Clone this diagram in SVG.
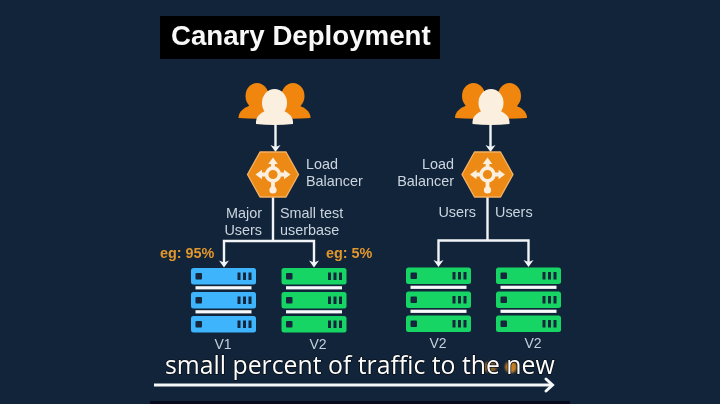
<svg xmlns="http://www.w3.org/2000/svg" xmlns:xlink="http://www.w3.org/1999/xlink" width="720" height="404" viewBox="0 0 720 404">
<style>
text{font-family:"Liberation Sans",Arial,sans-serif}
.lbl{font-size:14.4px;fill:#ccd5df}
.eg{font-size:14.4px;font-weight:700;fill:#e2972c}
.ver{font-size:14px;fill:#c4cfdb;text-anchor:middle}
.r{text-anchor:end}
.line{fill:none;stroke:#f2f5f7;stroke-width:2.4}
.tip{fill:#f2f5f7}
.cap{font-family:"Open Sans",sans-serif;font-size:24.8px;fill:#fff;stroke:#0a0f18;stroke-width:1.6px;paint-order:stroke;stroke-linejoin:round}
.blue{fill:#3cb4fb}
.green{fill:#18d565}
.sep{fill:#f7f9fa}
.hole{fill:#12273c}
.org{fill:#f08610}
.crm{fill:#fbf0e0}
</style>
<defs>
<filter id="soft" x="-5%" y="-5%" width="110%" height="110%"><feGaussianBlur stdDeviation="0.35"/></filter>
<filter id="blob" x="-50%" y="-50%" width="200%" height="200%"><feGaussianBlur stdDeviation="1.200"/></filter>
<path id="tip" d="M0 0L-5 -7L0 -5L5 -7Z"/>
<g id="row">
<rect x="0" y="0" width="65" height="16.500" rx="2.500"/>
<rect class="hole" x="4.500" y="5" width="6.500" height="6.500" rx="1"/>
<rect class="hole" x="46.500" y="4.500" width="3" height="7.500"/>
<rect class="hole" x="52" y="4.500" width="3" height="7.500"/>
<rect class="hole" x="57.500" y="4.500" width="3" height="7.500"/>
</g>
<g id="server">
<use xlink:href="#row" href="#row" y="0"/>
<rect class="sep" x="4.500" y="18.200" width="56" height="3.200"/>
<use xlink:href="#row" href="#row" y="24"/>
<rect class="sep" x="4.500" y="42.200" width="56" height="3.200"/>
<use xlink:href="#row" href="#row" y="48"/>
</g>
<g id="people">
<ellipse class="org" cx="-17.500" cy="-8" rx="11.500" ry="13"/>
<ellipse class="org" cx="18.500" cy="-8" rx="11.500" ry="13"/>
<path class="org" d="M-36 14C-36 7-30 4-24 1L-10 -2L2 14Q-17 15.500-36 14Z"/>
<path class="org" d="M36 14C36 7 30 4 24 1L10 -2L-2 14Q17 15.500 36 14Z"/>
<ellipse class="crm" cx="0" cy="-1" rx="12.500" ry="14"/>
<path class="crm" d="M-18.500 20C-19 13-15 9-7 6L7 6C15 9 19 13 18.500 20Q0 22-18.500 20Z"/>
</g>
<g id="lb">
<polygon points="-25.500,0 -13,-22.500 13,-22.500 25.500,0 13,22.500 -13,22.500" fill="#ed8a15" stroke="#f4b164" stroke-width="1.400" stroke-linejoin="round"/>
<circle cx="0" cy="0" r="6.400" fill="none" stroke="#fbf0e0" stroke-width="3.600"/>
<path d="M0 -7V-12M0 7V13M-7 0H-12M7 0H12" stroke="#fbf0e0" stroke-width="3.800"/>
<path class="crm" d="M0 -17L4.800 -10.500H-4.800ZM-17.500 0L-11 -4.800V4.800ZM17.500 0L11 -4.800V4.800Z"/>
<circle class="crm" cx="0" cy="15.500" r="3.600"/>
</g>
</defs>
<rect id="background" width="720" height="404" fill="#11243a"/>
<rect id="bottom-strip" x="150" y="401" width="420" height="3" fill="#060a1c"/>
<g id="artwork" filter="url(#soft)">
<g id="title">
<rect x="160" y="16" width="280" height="43" fill="#020202"/>
<text x="171" y="45" font-size="27.650" font-weight="700" fill="#f8f8f8">Canary Deployment</text>
</g>
<g id="connectors">
<path class="line" d="M275.500 125V148"/>
<use class="tip" xlink:href="#tip" href="#tip" transform="translate(275.500,152)"/>
<path class="line" d="M273 197V241M224 263V241H314V263"/>
<use class="tip" xlink:href="#tip" href="#tip" transform="translate(224,267.500)"/>
<use class="tip" xlink:href="#tip" href="#tip" transform="translate(314,267.500)"/>
<path class="line" d="M490.500 125V148"/>
<use class="tip" xlink:href="#tip" href="#tip" transform="translate(490.500,152)"/>
<path class="line" d="M487.500 197V240.500M438.500 262V240.500H528.500V262"/>
<use class="tip" xlink:href="#tip" href="#tip" transform="translate(438.500,267)"/>
<use class="tip" xlink:href="#tip" href="#tip" transform="translate(528.500,267)"/>
</g>
<g id="users-left"><use xlink:href="#people" href="#people" transform="translate(274.500,104)"/></g>
<g id="lb-left">
<use xlink:href="#lb" href="#lb" transform="translate(273,174.500)"/>
<text class="lbl" x="306" y="168.500">Load</text>
<text class="lbl" x="306" y="185.500">Balancer</text>
</g>
<g id="label-major">
<text class="lbl r" x="262" y="217.500">Major</text>
<text class="lbl r" x="262" y="234.500">Users</text>
<text class="eg" x="160" y="258">eg: 95%</text>
</g>
<g id="label-small">
<text class="lbl" x="280" y="217.500">Small test</text>
<text class="lbl" x="280" y="234.500">userbase</text>
<text class="eg" x="326" y="258">eg: 5%</text>
</g>
<g id="server-v1" class="blue">
<use xlink:href="#server" href="#server" transform="translate(191,268)"/>
<text class="ver" x="223" y="349">V1</text>
</g>
<g id="server-v2-left" class="green">
<use xlink:href="#server" href="#server" transform="translate(281.500,268)"/>
<text class="ver" x="318" y="349">V2</text>
</g>
<g id="users-right"><use xlink:href="#people" href="#people" transform="translate(491,104)"/></g>
<g id="lb-right">
<use xlink:href="#lb" href="#lb" transform="translate(487.500,174.500)"/>
<text class="lbl r" x="454" y="168.500">Load</text>
<text class="lbl r" x="454" y="185.500">Balancer</text>
</g>
<g id="label-users">
<text class="lbl r" x="476" y="217">Users</text>
<text class="lbl" x="495" y="217">Users</text>
</g>
<g id="server-v2-a" class="green">
<use xlink:href="#server" href="#server" transform="translate(406,267.500)"/>
<text class="ver" x="438" y="348">V2</text>
</g>
<g id="server-v2-b" class="green">
<use xlink:href="#server" href="#server" transform="translate(496,267.500)"/>
<text class="ver" x="533" y="348">V2</text>
</g>
<g id="timeline">
<path d="M154 385H551" fill="none" stroke="#f7f8fa" stroke-width="2.800"/>
<path d="M546 379L552.500 385L546 391" fill="none" stroke="#f7f8fa" stroke-width="3" stroke-linecap="round"/>
</g>
</g>
<g filter="url(#blob)" fill="#d98a20">
<ellipse cx="490" cy="367" rx="7" ry="5.500" opacity="0.6"/>
<ellipse cx="511" cy="367" rx="6" ry="6" opacity="0.9"/>
</g>
<text id="caption" class="cap" x="165" y="374">small percent of traffic to the new</text>
</svg>
